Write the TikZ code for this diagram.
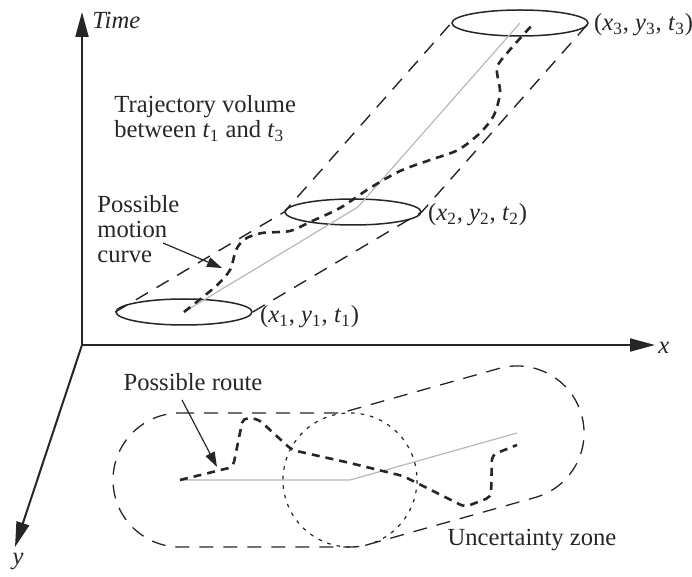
\documentclass[tikz,border=0pt]{standalone}
\usepackage{fontspec}
\setmainfont{Liberation Serif}
\usetikzlibrary{arrows.meta,shapes.geometric,calc}
\newcommand\vsub[2]{\textit{#1}\textsubscript{#2}}
\definecolor{ink}{HTML}{262626}
\begin{document}
\begin{tikzpicture}[x=0.5pt,y=-0.5pt,
  every node/.style={text=ink, font=\fontsize{12.3}{12.5}\selectfont},
  axis/.style={draw=ink, line width=1pt, -{Triangle[length=12.5pt,width=6.5pt]}},
  ell/.style={draw=ink, ellipse, line width=0.75pt, minimum width=68pt, minimum height=13pt, inner sep=0pt},
  vol/.style={draw=ink, line width=0.7pt, dash pattern=on 7pt off 5pt},
  motion/.style={draw=ink, line width=1.3pt, dash pattern=on 4pt off 3pt},
  midline/.style={draw=black!28, line width=0.6pt},
  zone/.style={draw=ink, line width=0.65pt, dash pattern=on 7pt off 5pt},
  dotc/.style={draw=ink, line width=0.6pt, dash pattern=on 1.8pt off 3pt},
  lblarrow/.style={draw=ink, line width=0.6pt, -{Triangle[length=7.5pt,width=5pt]}},
  lbl/.style={inner sep=0pt, align=left}
]
\useasboundingbox (0,0) rectangle (692,577);
% axes
\coordinate (O) at (82,345);
\coordinate (T) at (82,12);
\coordinate (X) at (655,345);
\coordinate (Y) at (15,547);
\draw[axis] (O) -- (T);
\draw[axis] (O) -- (X);
\draw[axis] (O) -- (Y);
\node[lbl, anchor=west] (tlab) at (92,20) {\textit{Time}};
\node[lbl, anchor=west] (xlab) at (658,348) {\textit{x}};
\node[lbl, anchor=north] (ylab) at (18,553) {\textit{y}};
% ellipses
\node[ell] (e1) at (184,312) {};
\node[ell] (e2) at (353,212) {};
\node[ell] (e3) at (520,23) {};
\node[lbl, anchor=west] (l1) at ($(e1.east)+(7,5)$) {(\vsub x1, \vsub y1, \vsub t1)};
\node[lbl, anchor=west] (l2) at ($(e2.east)+(6,3)$) {(\vsub x2, \vsub y2, \vsub t2)};
\node[lbl, anchor=west] (l3) at ($(e3.east)+(5,2)$) {(\vsub x3, \vsub y3, \vsub t3)};
% trajectory volume
\draw[vol] (e1.west) -- (e2.west) -- (e3.west);
\draw[vol] (e1.east) -- (e2.east) -- (e3.east);
\draw[midline] (e1.center) -- (358,207) -- (e3.center);
\draw[motion] plot[smooth] coordinates {(e1.center) (215,287) (230,270) (236,250) (245,239) (262,233) (290,231) (310,222) (340,208) (370,188) (400,171) (430,160) (458,150) (480,133) (494,115) (500,92) (497,68) (508,52) (534,23)};
\node[lbl, anchor=north west] (tv) at (114,95) {Trajectory volume\\between \vsub t1 and \vsub t3};
\node[lbl, anchor=north west] (pm) at (97,195) {Possible\\motion\\curve};
\coordinate (ms) at (163,243);
\coordinate (mt) at (222,268);
\draw[lblarrow] (ms) -- (mt);
% ground plane
\coordinate (c1) at (180,480);
\coordinate (c2) at (350,480);
\coordinate (c3) at (517,433);
\draw[midline] (c1) -- (c2) -- (c3);
\draw[dotc] (c2) circle[radius=67];
\draw[zone] ($(c1)+(0,-67)$) -- (340.7,413) -- ($(c3)+(-18.2,-64.5)$)
  arc[start angle=-105.8, end angle=74.2, radius=67]
  -- ($(c2)+(18.2,64.5)$) arc[start angle=74.2, end angle=90, radius=67]
  -- ($(c1)+(0,67)$) arc[start angle=90, end angle=270, radius=67] -- cycle;
\draw[motion, rounded corners=2.5pt] (c1) -- (233,467) -- (243,418) -- (258,419) -- (292,450) -- (350,463) -- (403,476) -- (465,507) -- (491,497) -- (492,455) -- (517,445);
\node[lbl] (pr) at (193,382) {Possible route};
\coordinate (rs) at (182,400);
\coordinate (rt) at (217,467);
\draw[lblarrow] (rs) -- (rt);
\node[lbl] (uz) at (532,540) {Uncertainty zone};
\end{tikzpicture}
\end{document}
